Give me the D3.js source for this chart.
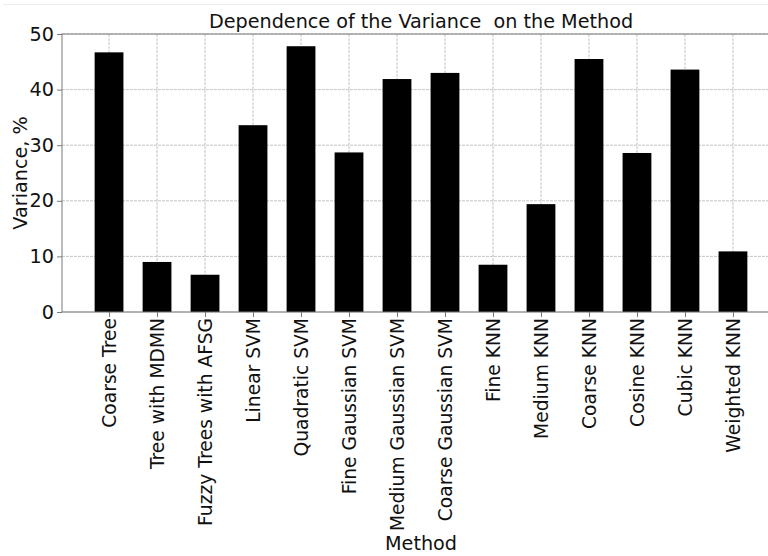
<!DOCTYPE html>
<html>
<head>
<meta charset="utf-8">
<script src="https://cdn.jsdelivr.net/npm/d3@7"></script>
<style>
  html, body { margin: 0; padding: 0; background: #fff; }
  svg { display: block; font-family: "DejaVu Sans", sans-serif; }
</style>
</head>
<body>
<svg id="chart" width="768" height="556"></svg>
<script>
const categories = ["Coarse Tree", "Tree with MDMN", "Fuzzy Trees with AFSG", "Linear SVM",
  "Quadratic SVM", "Fine Gaussian SVM", "Medium Gaussian SVM", "Coarse Gaussian SVM",
  "Fine KNN", "Medium KNN", "Coarse KNN", "Cosine KNN", "Cubic KNN", "Weighted KNN"];
const variance = [46.7, 9.0, 6.7, 33.6, 47.8, 28.7, 41.9, 43.0, 8.5, 19.4, 45.5, 28.6, 43.6, 10.9];
const yTicks = [0, 10, 20, 30, 40, 50];
const title = "Dependence of the Variance  on the Method";
const xLabel = "Method";
const yLabel = "Variance, %";

const svg = d3.select("#chart");
const W = 768, H = 556;
const L = 62, R = 780, T = 34, B = 312;
const barW = 0.6;
const FS = 19.2, TFS = 18.7;

const x = d3.scaleLinear().domain([-0.98, categories.length - 1 + 0.98]).range([L, R]);
const y = d3.scaleLinear().domain([0, 50]).range([B, T]);

// faint top border of image
svg.append("line").attr("x1", 3).attr("x2", W).attr("y1", 4.5).attr("y2", 4.5)
  .attr("stroke", "#ececec").attr("stroke-width", 1);

// grid
const grid = svg.append("g");
grid.selectAll("line.gx").data(categories.map((d, i) => i)).join("line")
  .attr("x1", d => x(d)).attr("x2", d => x(d)).attr("y1", T).attr("y2", B)
  .attr("stroke", "#b8b8b8").attr("stroke-width", 0.8).attr("stroke-dasharray", "3,1");
grid.selectAll("line.gy").data(yTicks).join("line")
  .attr("x1", L).attr("x2", R).attr("y1", d => y(d)).attr("y2", d => y(d))
  .attr("stroke", "#b8b8b8").attr("stroke-width", 0.8).attr("stroke-dasharray", "3,1");

// bars
svg.append("g").selectAll("rect").data(variance).join("rect")
  .attr("x", (d, i) => x(i - barW / 2))
  .attr("width", (d, i) => x(i + barW / 2) - x(i - barW / 2))
  .attr("y", d => y(d))
  .attr("height", d => y(0) - y(d))
  .attr("fill", "#000");

// frame
svg.append("rect").attr("x", L).attr("y", T).attr("width", R - L).attr("height", B - T)
  .attr("fill", "none").attr("stroke", "#7a7a7a").attr("stroke-width", 1);

// axes
const yAxis = d3.axisLeft(y).tickValues(yTicks).tickSize(5).tickPadding(3).tickFormat(d3.format("d"));
const gy = svg.append("g").attr("transform", `translate(${L},0)`).call(yAxis);
gy.select(".domain").remove();
gy.selectAll(".tick line").attr("stroke", "#7a7a7a");
gy.selectAll(".tick text").attr("font-size", FS).attr("fill", "#111")
  .attr("font-family", "DejaVu Sans");

const xAxis = d3.axisBottom(x).tickValues(categories.map((d, i) => i)).tickSize(5)
  .tickFormat(i => categories[i]);
const gx = svg.append("g").attr("transform", `translate(0,${B})`).call(xAxis);
gx.select(".domain").remove();
gx.selectAll(".tick line").attr("stroke", "#7a7a7a");
gx.selectAll(".tick text")
  .attr("font-size", TFS).attr("fill", "#111").attr("font-family", "DejaVu Sans")
  .attr("transform", "rotate(-90)")
  .attr("x", -6).attr("y", 0).attr("dy", "0.35em")
  .attr("text-anchor", "end");

// title and labels
svg.append("text").attr("x", (L + R) / 2).attr("y", 28).attr("text-anchor", "middle")
  .attr("font-size", FS).attr("fill", "#111").attr("xml:space", "preserve")
  .style("white-space", "pre").text(title);
svg.append("text").attr("x", (L + R) / 2).attr("y", 550).attr("text-anchor", "middle")
  .attr("font-size", FS).attr("fill", "#111").text(xLabel);
svg.append("text").attr("transform", `translate(27,${(T + B) / 2}) rotate(-90)`)
  .attr("text-anchor", "middle").attr("font-size", FS).attr("fill", "#111").text(yLabel);
</script>
</body>
</html>
